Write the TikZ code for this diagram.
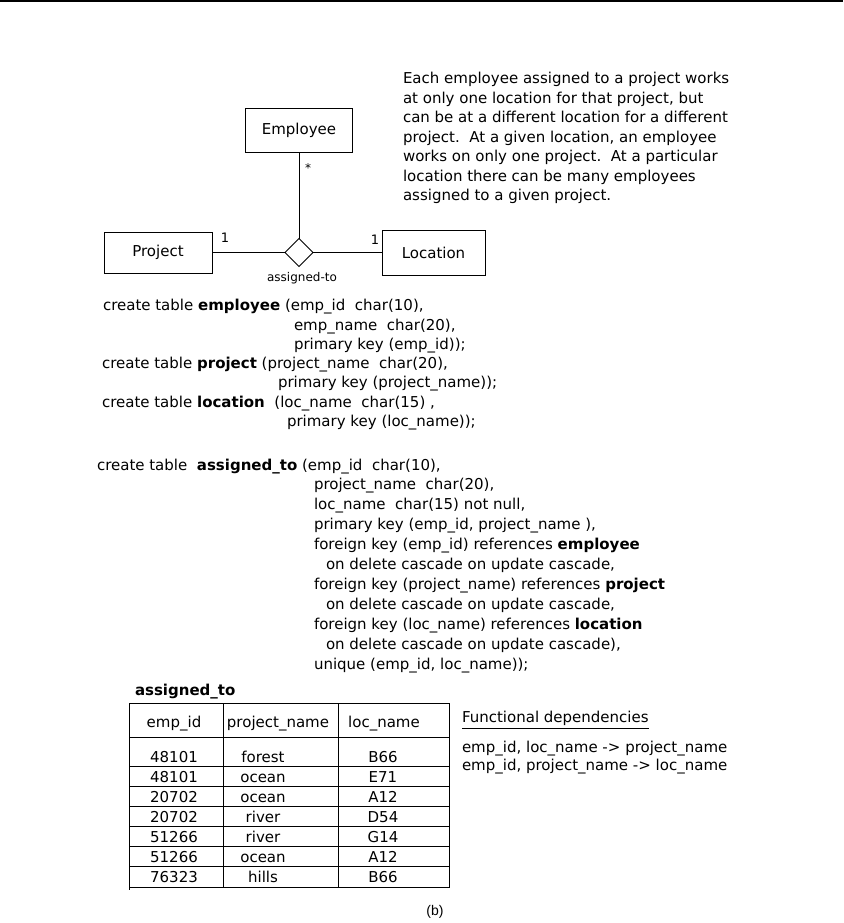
\documentclass[tikz,border=0pt]{standalone}
\usepackage{fontspec}
\setmainfont{DejaVu Sans}
\newfontfamily\capfont{Liberation Sans}
\usetikzlibrary{shapes.geometric}
\begin{document}
\begin{tikzpicture}[x=1pt,y=-1pt,
  txt/.style={inner sep=0pt, outer sep=0pt, anchor=base west, font=\fontsize{15}{18}\selectfont},
  ctr/.style={inner sep=0pt, outer sep=0pt, anchor=base, font=\fontsize{15}{18}\selectfont},
  ent/.style={draw, line width=1pt, inner sep=0pt, outer sep=0pt, font=\fontsize{15}{18}\selectfont},
  rel/.style={draw, diamond, line width=1pt, inner sep=0pt, outer sep=0pt, minimum width=28pt, minimum height=28pt},
  small/.style={inner sep=0pt, outer sep=0pt, font=\fontsize{12}{14}\selectfont},
  conn/.style={line width=1pt},
  grid/.style={line width=1pt}
]
\useasboundingbox (0,0) rectangle (843,923);
\fill (0,0) rectangle (843,2);

% ER diagram
\node[ent, minimum width=107pt, minimum height=43pt] (emp) at (299,130.5) {Employee};
\node[ent, minimum width=108pt, minimum height=41pt] (proj) at (158,252.5) {Project};
\node[ent, minimum width=103pt, minimum height=45pt] (loc) at (433.5,252.5) {Location};
\node[rel] (asg) at (299,252.5) {};
\draw[conn] (emp) -- (asg);
\draw[conn] (proj) -- (asg);
\draw[conn] (asg) -- (loc);
\node[small] (star) at (308,168) {*};
\node[small, font=\fontsize{13}{15}\selectfont] (onep) at (225,238) {1};
\node[small, font=\fontsize{13}{15}\selectfont] (onel) at (375,240) {1};
\node[small] (asglab) at (302,278) {assigned-to};

% description
\node[txt] (d1) at (403,84) {Each employee assigned to a project works};
\node[txt] (d2) at (403,103.4) {at only one location for that project, but};
\node[txt] (d3) at (403,122.8) {can be at a different location for a different};
\node[txt] (d4) at (403,142.2) {project.\ \ At a given location, an employee};
\node[txt] (d5) at (403,161.6) {works on only one project.\ \ At a particular};
\node[txt] (d6) at (403,181) {location there can be many employees};
\node[txt] (d7) at (403,200.4) {assigned to a given project.};

% SQL
\node[txt] (s1) at (103,310) {create table \textbf{employee} (emp\_id\ \ char(10),};
\node[txt] (s2) at (294,330) {emp\_name\ \ char(20),};
\node[txt] (s3) at (294,349) {primary key (emp\_id));};
\node[txt] (s4) at (102,368) {create table \textbf{project} (project\_name\ \ char(20),};
\node[txt] (s5) at (278,387) {primary key (project\_name));};
\node[txt] (s6) at (102,407) {create table \textbf{location}\ \ (loc\_name\ \ char(15) ,};
\node[txt] (s7) at (287,426) {primary key (loc\_name));};

\node[txt] (a1) at (97,470) {create table\ \ \textbf{assigned\_to} (emp\_id\ \ char(10),};
\node[txt] (a2) at (314,489.9) {project\_name\ \ char(20),};
\node[txt] (a3) at (314,509.8) {loc\_name\ \ char(15) not null,};
\node[txt] (a4) at (314,529.7) {primary key (emp\_id, project\_name ),};
\node[txt] (a5) at (314,549.6) {foreign key (emp\_id) references \textbf{employee}};
\node[txt] (a6) at (326,569.5) {on delete cascade on update cascade,};
\node[txt] (a7) at (314,589.4) {foreign key (project\_name) references \textbf{project}};
\node[txt] (a8) at (326,609.3) {on delete cascade on update cascade,};
\node[txt] (a9) at (314,629.2) {foreign key (loc\_name) references \textbf{location}};
\node[txt] (a10) at (326,649.1) {on delete cascade on update cascade),};
\node[txt] (a11) at (314,669) {unique (emp\_id, loc\_name));};

% table
\node[txt] (ttl) at (135,695) {\textbf{assigned\_to}};
\draw[grid] (129,703) rectangle (449,887);
\draw[grid] (129,887) -- (129,890);
\draw[grid] (223,703) -- (223,887);
\draw[grid] (338,703) -- (338,887);
\foreach \yy in {737,766,786,806,826,846,866} \draw[grid] (129,\yy) -- (449,\yy);
\node[ctr] (h1) at (174,727) {emp\_id};
\node[ctr] (h2) at (278,727) {project\_name};
\node[ctr] (h3) at (384,727) {loc\_name};
\foreach \i/\e/\p/\l/\yy in {1/48101/forest/B66/762.5, 2/48101/ocean/E71/782.5, 3/20702/ocean/A12/802.5, 4/20702/river/D54/822.5, 5/51266/river/G14/842.5, 6/51266/ocean/A12/862.5, 7/76323/hills/B66/882.5}{
  \node[ctr] (r\i e) at (174,\yy) {\e};
  \node[ctr] (r\i p) at (263,\yy) {\p};
  \node[ctr] (r\i l) at (383,\yy) {\l};
}

% functional dependencies
\node[txt] (fdt) at (462,722) {Functional dependencies};
\draw[line width=1pt] ([yshift=-6pt]fdt.base west) -- ([yshift=-6pt]fdt.base east);
\node[txt] (fd1) at (462,752) {emp\_id, loc\_name -> project\_name};
\node[txt] (fd2) at (462,770) {emp\_id, project\_name -> loc\_name};

\node[inner sep=0pt, font=\capfont\fontsize{14}{16}\selectfont] (cap) at (435,912) {(b)};
\end{tikzpicture}
\end{document}
